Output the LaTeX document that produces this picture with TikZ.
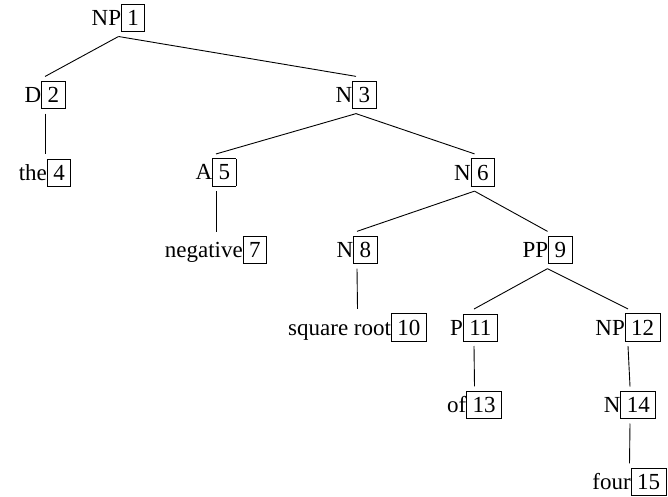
\documentclass[tikz,border=0pt]{standalone}
\usepackage{fontspec}
\setmainfont{Liberation Serif}
\setlength{\fboxsep}{5.5pt}
\setlength{\fboxrule}{0.9pt}
\begin{document}
\begin{tikzpicture}[x=1pt,y=-1pt,
  treenode/.style={inner sep=0pt, outer xsep=0pt, outer ysep=4.5pt, font=\fontsize{23}{27}\selectfont},
  edge/.style={line width=0.9pt}]
\useasboundingbox (0,0) rectangle (668,496);
\node[treenode] (n1)  at (118.5,18)  {NP\fbox{1}};
\node[treenode] (n2)  at (45,95)     {D\fbox{2}};
\node[treenode] (n3)  at (356,95)    {N\fbox{3}};
\node[treenode] (n4)  at (45,172.5)  {the\fbox{4}};
\node[treenode] (n5)  at (216,172.5) {A\fbox{5}};
\node[treenode] (n6)  at (474.5,172.5) {N\fbox{6}};
\node[treenode] (n7)  at (216,250)   {negative\fbox{7}};
\node[treenode] (n8)  at (357,250)   {N\fbox{8}};
\node[treenode] (n9)  at (547.5,250) {PP\fbox{9}};
\node[treenode] (n10) at (357.5,327.5) {square root\fbox{10}};
\node[treenode] (n11) at (474,327.5) {P\fbox{11}};
\node[treenode] (n12) at (628,327.5) {NP\fbox{12}};
\node[treenode] (n13) at (474.5,405) {of\fbox{13}};
\node[treenode] (n14) at (630,405)   {N\fbox{14}};
\node[treenode] (n15) at (629.5,482) {four\fbox{15}};
\draw[edge] (n1.south) -- (n2.north);
\draw[edge] (n1.south) -- (n3.north);
\draw[edge] (n2.south) -- (n4.north);
\draw[edge] (n3.south) -- (n5.north);
\draw[edge] (n3.south) -- (n6.north);
\draw[edge] (n5.south) -- (n7.north);
\draw[edge] (n6.south) -- (n8.north);
\draw[edge] (n6.south) -- (n9.north);
\draw[edge] (n8.south) -- (n10.north);
\draw[edge] (n9.south) -- (n11.north);
\draw[edge] (n9.south) -- (n12.north);
\draw[edge] (n11.south) -- (n13.north);
\draw[edge] (n12.south) -- (n14.north);
\draw[edge] (n14.south) -- (n15.north);
\end{tikzpicture}
\end{document}
